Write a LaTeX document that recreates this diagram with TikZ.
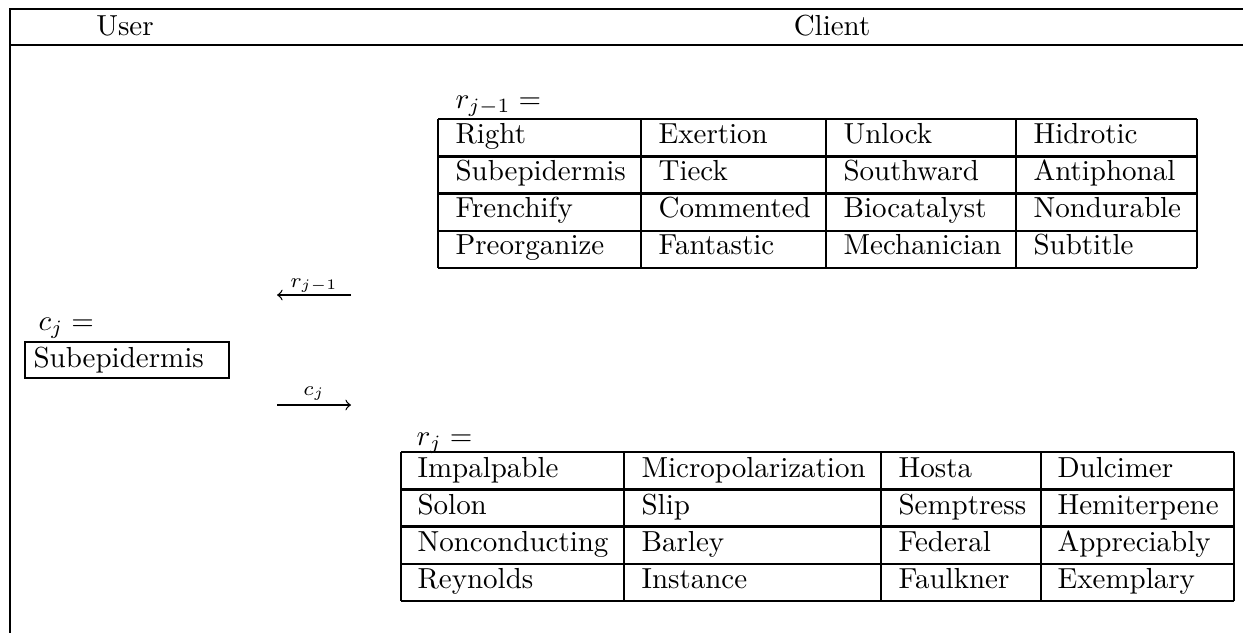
\documentclass[tikz,border=0pt]{standalone}
\begin{document}
\begin{tikzpicture}[x=0.345pt,y=-0.345pt,
  frame/.style={line width=1pt},
  grid/.style={line width=0.9pt},
  txt/.style={anchor=base west,inner sep=0pt},
  ctxt/.style={anchor=base,inner sep=0pt},
  arr/.style={line width=0.45pt,->}]
\useasboundingbox (0,0) rectangle (1243,633);
% outer frame
\coordinate (tl) at (10,9); \coordinate (tr) at (1243,9);
\coordinate (hl) at (10,45); \coordinate (hr) at (1243,45);
\coordinate (bl) at (10,633);
\draw[frame] (tr) -- (tl) -- (bl);
\draw[frame] (hl) -- (hr);
\node[ctxt] (user) at (125,35) {User};
\node[ctxt] (client) at (832,35) {Client};
% top table
\node[txt] (rlabA) at (455,108) {$r_{j-1} =$};
\foreach \y in {119,156.3,193.5,230.8,268} \draw[grid] (438,\y) -- (1197,\y);
\foreach \x in {438,641,826,1016,1197} \draw[grid] (\x,119) -- (\x,268);
\foreach \a/\b/\c/\d [count=\r] in {Right/Exertion/Unlock/Hidrotic,
  Subepidermis/Tieck/Southward/Antiphonal,
  Frenchify/Commented/Biocatalyst/Nondurable,
  Preorganize/Fantastic/Mechanician/Subtitle}{
  \node[txt] (A-\r-1) at (455,{143+37.25*(\r-1)}) {\a};
  \node[txt] (A-\r-2) at (658,{143+37.25*(\r-1)}) {\b};
  \node[txt] (A-\r-3) at (843,{143+37.25*(\r-1)}) {\c};
  \node[txt] (A-\r-4) at (1033,{143+37.25*(\r-1)}) {\d};
}
% bottom table
\node[txt] (rlabB) at (416,445) {$r_j =$};
\foreach \y in {452,489.3,526.5,563.8,601} \draw[grid] (401,\y) -- (1234,\y);
\foreach \x in {401,624,881,1041,1234} \draw[grid] (\x,452) -- (\x,601);
\foreach \a/\b/\c/\d [count=\r] in {Impalpable/Micropolarization/Hosta/Dulcimer,
  Solon/Slip/Semptress/Hemiterpene,
  Nonconducting/Barley/Federal/Appreciably,
  Reynolds/Instance/Faulkner/Exemplary}{
  \node[txt] (B-\r-1) at (417,{477+37.25*(\r-1)}) {\a};
  \node[txt] (B-\r-2) at (641,{477+37.25*(\r-1)}) {\b};
  \node[txt] (B-\r-3) at (898,{477+37.25*(\r-1)}) {\c};
  \node[txt] (B-\r-4) at (1057,{477+37.25*(\r-1)}) {\d};
}
% user value
\node[txt] (clab) at (38,330) {$c_j =$};
\draw[grid] (25,342) rectangle (229,378);
\node[txt] (cval) at (33,367) {Subepidermis};
% arrows
\coordinate (a1s) at (351,295); \coordinate (a1e) at (277,295);
\coordinate (a2s) at (277,405); \coordinate (a2e) at (351,405);
\draw[arr] (a1s) -- (a1e);
\draw[arr] (a2s) -- (a2e);
\node[ctxt] (l1) at (314,287) {$\scriptstyle r_{j-1}$};
\node[ctxt] (l2) at (314,395) {$\scriptstyle c_j$};
\end{tikzpicture}
\end{document}
